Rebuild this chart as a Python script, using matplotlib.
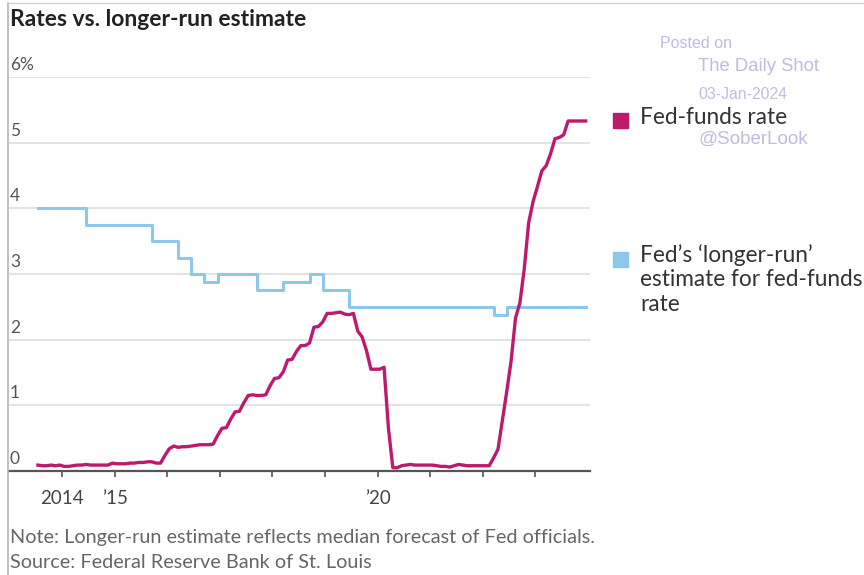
import numpy as np
import matplotlib.pyplot as plt
from matplotlib.lines import Line2D
import matplotlib.transforms as mtransforms

# monthly effective fed-funds rate, Jul 2013 .. Dec 2023
ff_start = (2013, 7)
fed_funds = [0.09, 0.08, 0.08, 0.09, 0.08, 0.09,
             0.07, 0.07, 0.08, 0.09, 0.09, 0.10, 0.09, 0.09, 0.09, 0.09, 0.09, 0.12,
             0.11, 0.11, 0.11, 0.12, 0.12, 0.13, 0.13, 0.14, 0.14, 0.12, 0.12, 0.24,
             0.34, 0.38, 0.36, 0.37, 0.37, 0.38, 0.39, 0.40, 0.40, 0.40, 0.41, 0.54,
             0.65, 0.66, 0.79, 0.90, 0.91, 1.04, 1.15, 1.16, 1.15, 1.15, 1.16, 1.30,
             1.41, 1.42, 1.51, 1.69, 1.70, 1.82, 1.91, 1.91, 1.95, 2.19, 2.20, 2.27,
             2.40, 2.40, 2.41, 2.42, 2.39, 2.38, 2.40, 2.13, 2.04, 1.83, 1.55, 1.55,
             1.55, 1.58, 0.65, 0.05, 0.05, 0.08, 0.09, 0.10, 0.09, 0.09, 0.09, 0.09,
             0.09, 0.08, 0.07, 0.07, 0.06, 0.08, 0.10, 0.09, 0.08, 0.08, 0.08, 0.08,
             0.08, 0.08, 0.20, 0.33, 0.77, 1.21, 1.68, 2.33, 2.56, 3.08, 3.78, 4.10,
             4.33, 4.57, 4.65, 4.83, 5.06, 5.08, 5.12, 5.33, 5.33, 5.33, 5.33, 5.33]

# Fed's longer-run median estimate (SEP releases), step changes
lr_dates = [(2013, 7), (2014, 6), (2015, 9), (2016, 3), (2016, 6), (2016, 9), (2016, 12),
            (2017, 9), (2018, 3), (2018, 9), (2018, 12), (2019, 6), (2022, 3), (2022, 6),
            (2023, 12)]
longer_run = [4.0, 3.75, 3.5, 3.25, 3.0, 2.875, 3.0, 2.75, 2.875, 3.0, 2.75, 2.5, 2.375,
              2.5, 2.5]

tick_years = list(range(2014, 2024))
tick_labels = {2014: '2014', 2015: "\u201915", 2020: "\u201920"}
y_ticks = [0, 1, 2, 3, 4, 5, 6]
y_labels = ['0', '1', '2', '3', '4', '5', '6%']


def frac_year(y, m):
    return y + (m - 1) / 12 + 0.04


ff_x = np.array([frac_year(ff_start[0], ff_start[1]) + i / 12 for i in range(len(fed_funds))])
lr_x = np.array([frac_year(y, m) for y, m in lr_dates])

MAGENTA = '#bd1a6e'
BLUE = '#8cc8ec'

plt.rcParams['font.family'] = ['Lato', 'DejaVu Sans']

fig = plt.figure(figsize=(8.64, 5.75), dpi=100)
ax = fig.add_axes([9 / 864, 1 - 471 / 575, (590 - 9) / 864, (471 - 77) / 575])

ax.set_xlim(2012.99, 2024.04)
ax.set_ylim(0, 6)

for v in y_ticks[1:]:
    ax.axhline(v, color='#e3e3e3', lw=1.5, zorder=0)

ax.step(lr_x, longer_run, where='post', color=BLUE, lw=2.2, zorder=2)
ax.plot(ff_x, fed_funds, color=MAGENTA, lw=2.4, zorder=3, clip_on=False,
        solid_joinstyle='round')

for s in ['top', 'right', 'left']:
    ax.spines[s].set_visible(False)
ax.spines['bottom'].set_color('#555555')
ax.spines['bottom'].set_linewidth(1.6)

ax.set_yticks([])
trans = mtransforms.blended_transform_factory(fig.transFigure, ax.transData)
for v, lab in zip(y_ticks, y_labels):
    ax.text(10 / 864, v + 0.06, lab, transform=trans, fontsize=12.5, color='#555555',
            ha='left', va='bottom')

ax.set_xticks(tick_years)
ax.set_xticklabels([tick_labels.get(y, '') for y in tick_years], fontsize=13.5,
                   color='#444444')
ax.tick_params(axis='x', length=4, width=1.2, color='#555555', pad=10)

fig.text(10 / 864, 1 - 20 / 575, 'Rates vs. longer-run estimate', fontsize=16.5,
         fontweight='bold', color='#222222', va='center', ha='left')

# legend
fig.patches.append(plt.Rectangle((613 / 864, 1 - 128 / 575), 15 / 864, 15 / 575,
                                 transform=fig.transFigure, color=MAGENTA))
fig.text(640 / 864, 1 - 118 / 575, 'Fed-funds rate', fontsize=16.3, color='#333333',
         va='center', ha='left')
fig.patches.append(plt.Rectangle((613 / 864, 1 - 267 / 575), 15 / 864, 15 / 575,
                                 transform=fig.transFigure, color=BLUE))
fig.text(640 / 864, 1 - 244 / 575, 'Fed\u2019s \u2018longer-run\u2019\nestimate for fed-funds\nrate',
         fontsize=16.3, color='#333333', va='top', ha='left', linespacing=1.2)

# watermark
wm = '#bdbde0'
fig.text(660 / 864, 1 - 43 / 575, 'Posted on', fontsize=11.5, color=wm,
         family='Liberation Sans', va='center')
fig.text(698 / 864, 1 - 67 / 575, 'The Daily Shot', fontsize=13.3, color=wm,
         family='Liberation Sans', va='center')
fig.text(698 / 864, 1 - 95 / 575, '03-Jan-2024', fontsize=11.3, color=wm,
         family='Liberation Sans', va='center')
fig.text(698 / 864, 1 - 139 / 575, '@SoberLook', fontsize=13.5, color=wm,
         family='Liberation Sans', va='center')

# footer
fig.text(10 / 864, 1 - 537 / 575,
         'Note: Longer-run estimate reflects median forecast of Fed officials.',
         fontsize=14.3, color='#666666', va='center', ha='left')
fig.text(10 / 864, 1 - 563 / 575, 'Source: Federal Reserve Bank of St. Louis',
         fontsize=14.3, color='#666666', va='center', ha='left')

# image border
fig.add_artist(Line2D([8 / 864, 8 / 864], [0, 1 - 3 / 575], transform=fig.transFigure,
                      color='#b5b5b5', lw=1.2))
fig.add_artist(Line2D([8 / 864, 1], [1 - 3 / 575, 1 - 3 / 575], transform=fig.transFigure,
                      color='#cfcfcf', lw=1.0))

fig.savefig('out.png', dpi=100)
